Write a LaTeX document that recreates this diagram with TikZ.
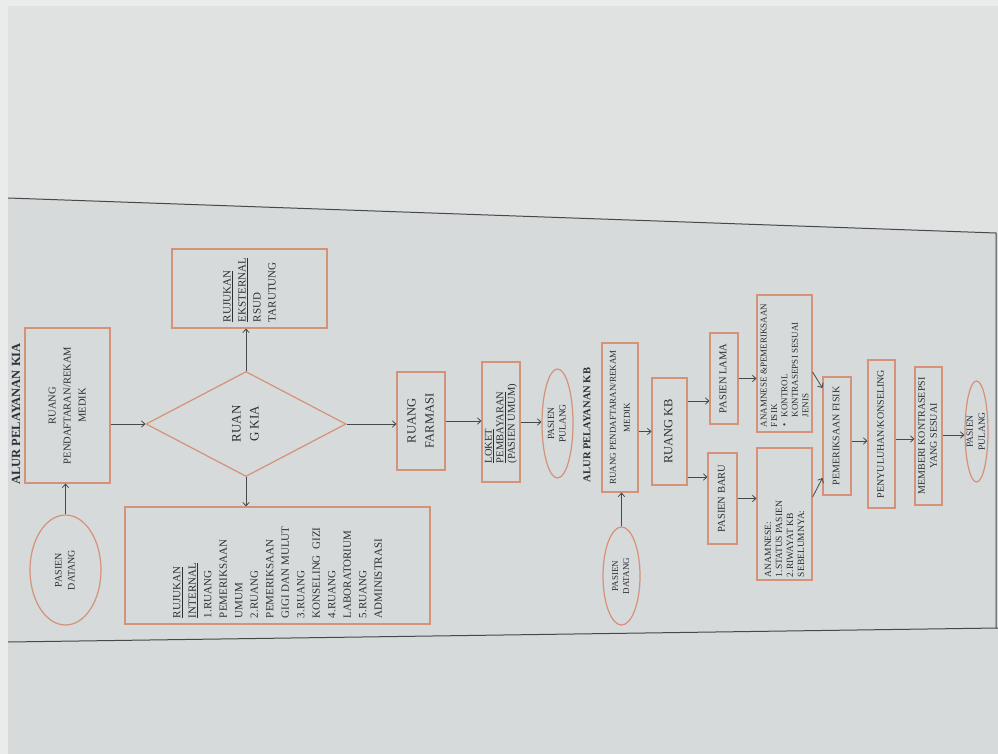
\documentclass[tikz,border=0pt]{standalone}
\usepackage{graphicx}
\usepackage{fontspec}
\setmainfont{Liberation Serif}
\usetikzlibrary{shapes.geometric,arrows.meta,calc}
\definecolor{pagebg}{RGB}{214,218,218}
\definecolor{topbg}{RGB}{224,226,225}
\definecolor{edgebg}{RGB}{234,236,235}
\definecolor{boxc}{RGB}{212,146,120}
\definecolor{inkc}{RGB}{45,47,50}
\definecolor{linec}{RGB}{70,72,74}
% zero-size, centred wrapper for rotated content
\newcommand\zc[1]{\makebox[0pt]{\raisebox{-.5\height}[0pt][0pt]{#1}}}
% centred rotated lines: size, skip, lines
\newcommand\vc[3]{\zc{\rotatebox{90}{\fontsize{#1}{#2}\selectfont\begin{tabular}{@{}c@{}}#3\end{tabular}}}}
% left aligned rotated lines: width, size, skip, lines
\newcommand\vl[4]{\zc{\rotatebox{90}{\parbox{#1pt}{\fontsize{#2}{#3}\selectfont\raggedright #4}}}}
\tikzset{
  box/.style={draw=boxc, line width=1.2pt, inner sep=0pt, text=inkc},
  oval/.style={ellipse, draw=boxc, line width=1.2pt, inner sep=0pt, text=inkc},
  dia/.style={diamond, draw=boxc, line width=1.2pt, inner sep=0pt, text=inkc},
  ttl/.style={inner sep=0pt, text=inkc},
  arr/.style={draw=linec, line width=0.8pt, -{Straight Barb[length=3.5pt,width=6.5pt]}},
  border/.style={draw=linec, line width=1pt}
}
\begin{document}
\begin{tikzpicture}[x=1pt,y=-1pt]
\useasboundingbox (0,0) rectangle (998,754);
% photo background
\fill[pagebg] (0,0) rectangle (998,754);
\fill[topbg] (0,0) -- (998,0) -- (998,233) -- (8,198) -- cycle;
\fill[edgebg] (0,0) rectangle (8,754);
\fill[edgebg] (0,0) rectangle (998,6);
% page frame
\draw[border] (8,198) -- (996,233) -- (996,628);
\draw[border] (8,642) -- (998,628);

% ---------------- ALUR PELAYANAN KIA ----------------
\node[ttl] (tkia) at (16,414) {\zc{\rotatebox{90}{\fontsize{12.5}{14}\selectfont\bfseries ALUR PELAYANAN KIA}}};
\node[box, minimum width=85, minimum height=155] (regkia) at (67.5,405.5)
  {\vc{10.5}{15}{RUANG\\PENDAFTARAN/REKAM\\MEDIK}};
\node[oval, minimum width=71, minimum height=110] (pdkia) at (65.5,570)
  {\vc{10}{13}{PASIEN\\DATANG}};
\node[dia, minimum width=200, minimum height=105] (dkia) at (246,424)
  {\vc{13}{18}{RUAN\\G KIA}};
\node[box, minimum width=155, minimum height=79] (eks) at (249.5,288.5)
  {\vl{67}{11}{15}{\underline{RUJUKAN}\\\underline{EKSTERNAL}\\RSUD\\TARUTUNG}};
\node[box, minimum width=305, minimum height=117] (rint) at (277.5,565.5)
  {\vl{105}{11}{15.5}{\underline{RUJUKAN}\\\underline{INTERNAL}\\1.RUANG\\PEMERIKSAAN\\UMUM\\2.RUANG\\PEMERIKSAAN\\GIGI DAN MULUT\\3.RUANG\\KONSELING\ \ GIZI\\4.RUANG\\LABORATORIUM\\5.RUANG\\ADMINISTRASI}};
\node[box, minimum width=48, minimum height=98] (farm) at (421,421)
  {\vc{12.5}{18}{RUANG\\FARMASI}};
\node[box, minimum width=38, minimum height=120] (loket) at (501,422)
  {\vl{82}{10.5}{11.5}{\underline{LOKET}\\\underline{PEMBAYARAN}\\(PASIEN UMUM)}};
\node[oval, minimum width=31, minimum height=109] (ppkia) at (557.5,423.5)
  {\vc{9.5}{11.5}{PASIEN\\PULANG}};

\draw[arr] (pdkia.north) -- (pdkia.north |- regkia.south);
\draw[arr] (regkia.east |- dkia.west) -- (dkia.west);
\draw[arr] (dkia.north) -- (dkia.north |- eks.south);
\draw[arr] (dkia.south) -- (dkia.south |- rint.north);
\draw[arr] (dkia.east) -- (dkia.east -| farm.west);
\draw[arr] (farm.east) -- (farm.east -| loket.west);
\draw[arr] (loket.east) -- (loket.east -| ppkia.west);

% ---------------- ALUR PELAYANAN KB ----------------
\node[ttl] (tkb) at (587,425) {\zc{\rotatebox{90}{\fontsize{10.5}{12}\selectfont\bfseries ALUR PELAYANAN KB}}};
\node[box, minimum width=36, minimum height=149] (regkb) at (620,417.5)
  {\vc{9}{14}{RUANG PENDAFTARAN/REKAM\\MEDIK}};
\node[oval, minimum width=37, minimum height=98] (pdkb) at (621.5,576)
  {\vc{9}{11}{PASIEN\\DATANG}};
\node[box, minimum width=35, minimum height=107] (rkb) at (669.5,431.5)
  {\vc{12.5}{14}{RUANG KB}};
\node[box, minimum width=28, minimum height=91] (plama) at (724,378.5)
  {\vc{10.5}{12}{PASIEN LAMA}};
\node[box, minimum width=29, minimum height=91] (pbaru) at (722.5,498.5)
  {\vc{10.5}{12}{PASIEN BARU}};
\node[box, minimum width=55, minimum height=137] (anam1) at (784.5,363.5)
  {\vl{127}{9}{10.4}{ANAMNESE \&PEMERIKSAAN\\FISIK\\\makebox[10pt][l]{\hspace{1pt}\textbullet}KONTROL\\\hspace*{10pt}KONTRASEPSI SESUAI\\\hspace*{10pt}JENIS}};
\node[box, minimum width=55, minimum height=132] (anam2) at (784.5,514)
  {\vl{126}{9.5}{11}{ANAMNESE:\\1.STATUS PASIEN\\2.RIWAYAT KB\\SEBELUMNYA:}};
\node[box, minimum width=28, minimum height=118] (pfis) at (837,436)
  {\vc{10}{12}{PEMERIKSAAN FISIK}};
\node[box, minimum width=27, minimum height=148] (peny) at (881.5,434)
  {\vc{10}{12}{PENYULUHAN/KONSELING}};
\node[box, minimum width=27, minimum height=138] (mem) at (928.5,436)
  {\vc{10}{12}{MEMBERI KONTRASEPSI\\YANG SESUAI}};
\node[oval, minimum width=23, minimum height=101] (ppkb) at (976.5,431.5)
  {\vc{9.5}{12}{PASIEN\\PULANG}};

\draw[arr] (pdkb.north) -- (pdkb.north |- regkb.south);
\draw[arr] (regkb.east |- rkb.west) -- (rkb.west);
\draw[arr] (rkb.east |- 0,401) -- (plama.west |- 0,401);
\draw[arr] (rkb.east |- 0,477) -- (pbaru.west |- 0,477);
\draw[arr] (plama.east) -- (plama.east -| anam1.west);
\draw[arr] (pbaru.east) -- (pbaru.east -| anam2.west);
\draw[arr] (anam1.east |- 0,372) -- (pfis.west |- 0,388);
\draw[arr] (anam2.east |- 0,497) -- (pfis.west |- 0,478);
\draw[arr] (pfis.east |- 0,441) -- (peny.west |- 0,441);
\draw[arr] (peny.east |- 0,439) -- (mem.west |- 0,439);
\draw[arr] (mem.east |- 0,435) -- (ppkb.west |- 0,435);
\end{tikzpicture}
\end{document}
